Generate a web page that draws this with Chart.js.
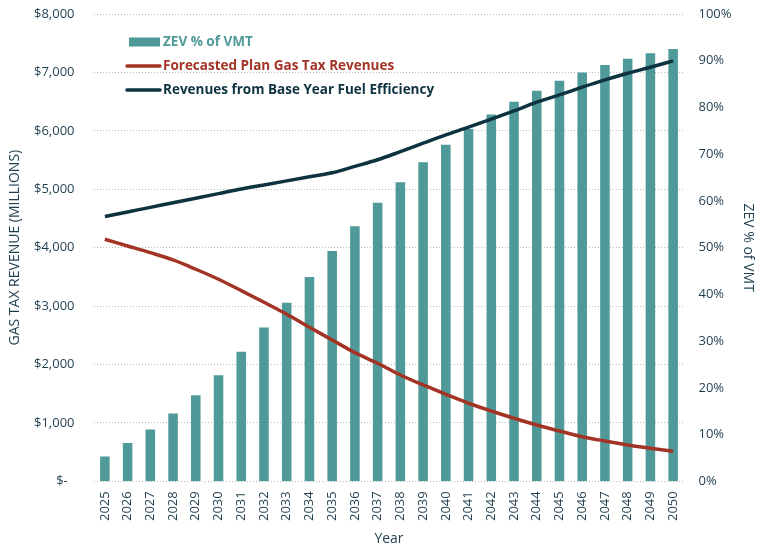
<!DOCTYPE html>
<html>
<head>
<meta charset="utf-8">
<script src="https://cdn.jsdelivr.net/npm/chart.js@4.4.1/dist/chart.umd.min.js"></script>
<style>
  html, body { margin: 0; padding: 0; background: #ffffff; }
  #wrap { width: 757px; height: 550px; }
</style>
</head>
<body>
<div id="wrap"><canvas id="c" width="757" height="550"></canvas></div>
<script>
const years = ['2025','2026','2027','2028','2029','2030','2031','2032','2033','2034','2035','2036','2037','2038','2039','2040','2041','2042','2043','2044','2045','2046','2047','2048','2049','2050'];
const zevShare = [0.053,0.082,0.111,0.145,0.184,0.227,0.277,0.329,0.382,0.437,0.493,0.546,0.596,0.640,0.683,0.720,0.754,0.785,0.812,0.836,0.857,0.875,0.891,0.904,0.916,0.925];
const forecastRevenue = [4144,4029,3914,3789,3630,3459,3264,3065,2860,2637,2420,2202,2021,1820,1649,1490,1336,1204,1079,964,861,764,690,622,565,514];
const baseYearRevenue = [4533,4611,4690,4768,4847,4925,5003,5073,5143,5213,5283,5392,5505,5644,5788,5930,6062,6199,6341,6490,6615,6747,6872,6986,7089,7197];
const seriesNames = ['ZEV % of VMT','Forecasted Plan Gas Tax Revenues','Revenues from Base Year Fuel Efficiency'];
const axisTitles = { left: 'GAS TAX REVENUE (MILLIONS)', right: 'ZEV % of VMT', bottom: 'Year' };

const TEAL = '#4F9A98';
const RED = '#A33425';
const NAVY = '#0D3240';
const TXT = '#1F3E4E';
const FONT = '"Open Sans", "Noto Sans", sans-serif';

const legendPlugin = {
  id: 'customLegend',
  afterDatasetsDraw(chart) {
    const ctx = chart.ctx;
    const x0 = 127, x1 = 160, tx = 163;
    const ys = [42, 66, 90];
    const colors = [TEAL, RED, NAVY];
    ctx.save();
    ctx.font = 'bold 13.5px ' + FONT;
    ctx.textBaseline = 'middle';
    ctx.textAlign = 'left';
    ys.forEach((y, i) => {
      if (i === 0) {
        ctx.fillStyle = colors[i];
        ctx.fillRect(x0 + 2, y - 4.5, x1 - x0 - 2, 9);
      } else {
        ctx.strokeStyle = colors[i];
        ctx.lineWidth = 3.5;
        ctx.lineCap = 'round';
        ctx.beginPath();
        ctx.moveTo(x0, y);
        ctx.lineTo(x1, y);
        ctx.stroke();
      }
      ctx.fillStyle = colors[i];
      ctx.fillText(seriesNames[i], tx, y + 0.5);
    });
    ctx.restore();
  }
};

function fixVertical(width) {
  return (s) => { s.width = width; s.paddingTop = 0; s.paddingBottom = 0; };
}

new Chart(document.getElementById('c'), {
  type: 'bar',
  data: {
    labels: years,
    datasets: [
      {
        type: 'line', label: seriesNames[1], data: forecastRevenue, yAxisID: 'y',
        borderColor: RED, backgroundColor: RED, borderWidth: 3.5, pointRadius: 0,
        cubicInterpolationMode: 'monotone', order: 0
      },
      {
        type: 'line', label: seriesNames[2], data: baseYearRevenue, yAxisID: 'y',
        borderColor: NAVY, backgroundColor: NAVY, borderWidth: 3.5, pointRadius: 0,
        cubicInterpolationMode: 'monotone', order: 1
      },
      {
        type: 'bar', label: seriesNames[0], data: zevShare, yAxisID: 'y1',
        backgroundColor: TEAL, borderWidth: 0,
        barPercentage: 0.42, categoryPercentage: 1.0, order: 2
      }
    ]
  },
  options: {
    responsive: false,
    animation: false,
    devicePixelRatio: 1,
    layout: { padding: { top: 14, left: 0, right: 0, bottom: 0 } },
    plugins: { legend: { display: false }, tooltip: { enabled: false } },
    scales: {
      x: {
        grid: { display: false, drawTicks: false },
        border: { display: false },
        ticks: {
          autoSkip: false, maxRotation: 90, minRotation: 90, padding: 10,
          color: TXT, font: { family: FONT, size: 13 }
        },
        title: { display: true, text: axisTitles.bottom, color: TXT, font: { family: FONT, size: 14 }, padding: { top: 0, bottom: 3 } },
        afterFit(s) { s.height = 68.7; s.paddingLeft = 0; s.paddingRight = 0; }
      },
      y: {
        position: 'left', min: 0, max: 8000,
        ticks: {
          stepSize: 1000, padding: 19, color: TXT, font: { family: FONT, size: 13 },
          callback: (v) => v === 0 ? '$-  ' : '$' + v.toLocaleString('en-US')
        },
        grid: { color: '#B8B8B8', lineWidth: 1, drawTicks: false },
        border: { display: false, dash: [1, 2] },
        title: { display: true, text: axisTitles.left, color: TXT, font: { family: FONT, size: 14 }, padding: { top: 7, bottom: 0 } },
        afterFit: fixVertical(93.5)
      },
      y1: {
        position: 'right', min: 0, max: 1,
        ticks: {
          stepSize: 0.1, padding: 14, color: TXT, font: { family: FONT, size: 13 },
          callback: (v) => Math.round(v * 100) + '%'
        },
        grid: { display: false, drawTicks: false },
        border: { display: false },
        title: { display: true, text: axisTitles.right, color: TXT, font: { family: FONT, size: 14 }, padding: { top: 1, bottom: 0 } },
        afterFit: fixVertical(72.5)
      }
    }
  },
  plugins: [legendPlugin]
});
</script>
</body>
</html>
